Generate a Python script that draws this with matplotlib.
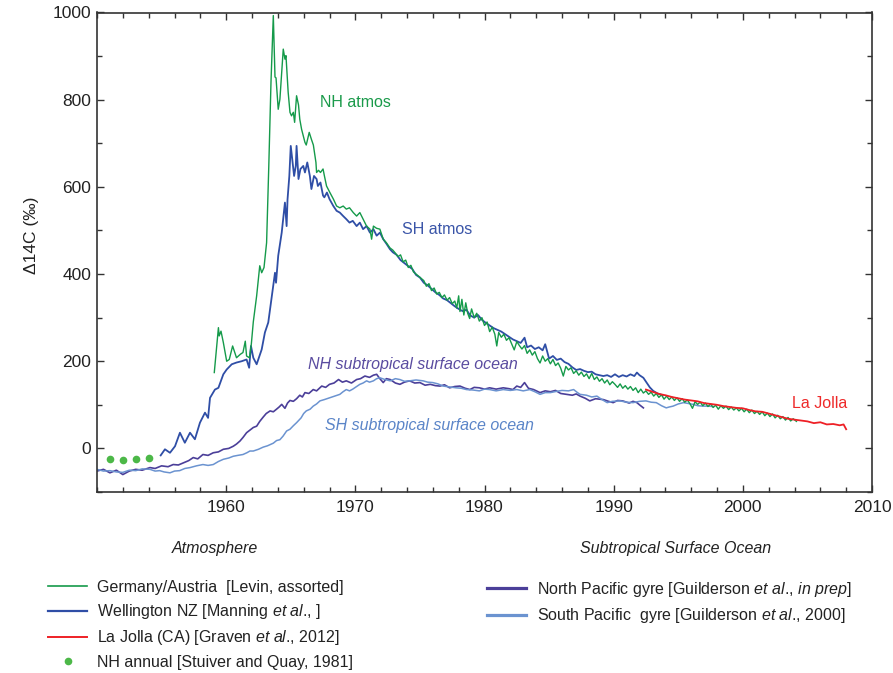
import numpy as np
import matplotlib
matplotlib.use("Agg")
from matplotlib import pyplot as plt
from matplotlib.lines import Line2D
from matplotlib.ticker import MultipleLocator

plt.rcParams["font.family"] = ["Liberation Sans", "DejaVu Sans"]
plt.rcParams["mathtext.fontset"] = "custom"
plt.rcParams["mathtext.rm"] = "Liberation Sans"
plt.rcParams["mathtext.it"] = "Liberation Sans:italic"

# NH annual [Stuiver and Quay, 1981]
dot_years = [1951, 1952, 1953, 1954]
dot_vals = [-24, -26, -25, -22]

# Germany/Austria (NH atmos)
nh_years = [1959.08, 1959.40, 1959.46, 1959.60, 1959.78, 1960.04, 1960.24, 1960.50, 1960.80, 1961.10,
            1961.30, 1961.48, 1961.58, 1961.80, 1961.95, 1962.10, 1962.36, 1962.60, 1962.75, 1962.93,
            1963.13, 1963.30, 1963.47, 1963.65, 1963.78, 1963.86, 1964.03, 1964.16, 1964.42, 1964.55,
            1964.63, 1964.80, 1964.94, 1965.06, 1965.20, 1965.30, 1965.45, 1965.60, 1965.70, 1965.84,
            1966.10, 1966.20, 1966.43, 1966.60, 1966.75, 1966.95, 1967.00, 1967.15, 1967.30, 1967.50,
            1967.60, 1967.77, 1968.03, 1968.30, 1968.55, 1968.80, 1969.06, 1969.30, 1969.55, 1969.84,
            1970.10, 1970.35, 1970.60, 1970.87, 1971.13, 1971.26, 1971.40, 1971.64, 1971.90, 1972.16,
            1972.40, 1972.68, 1972.9, 1973.1, 1973.3, 1973.5, 1973.7, 1973.9, 1974.1, 1974.3,
            1974.5, 1975.3, 1975.5, 1975.7, 1975.9, 1976.1, 1976.3, 1976.5, 1976.7, 1976.9,
            1977.1, 1977.3, 1977.5, 1977.7, 1977.85, 1978.0, 1978.1, 1978.25, 1978.4, 1978.55,
            1978.7, 1978.85, 1979.0, 1979.2, 1979.4, 1979.6, 1979.8, 1980.0, 1980.2, 1980.4,
            1980.6, 1980.8, 1980.95, 1981.1, 1981.3, 1981.5, 1981.7, 1981.9, 1982.1, 1982.3,
            1982.5, 1982.7, 1982.9, 1983.1, 1983.3, 1983.5, 1983.7, 1983.9, 1984.1, 1984.3,
            1984.5, 1984.7, 1984.9, 1985.1, 1985.3, 1985.5, 1985.7, 1985.9, 1986.1, 1986.3,
            1986.5, 1986.7, 1986.9, 1987.1, 1987.3, 1987.5, 1987.7, 1987.9, 1988.1, 1988.3,
            1988.5, 1988.7, 1988.9, 1989.1, 1989.3, 1989.5, 1989.7, 1989.9, 1990.1, 1990.3,
            1990.5, 1990.7, 1990.9, 1991.1, 1991.3, 1991.5, 1991.7, 1991.9, 1992.1, 1992.3,
            1992.5, 1992.7, 1992.9, 1993.1, 1993.3, 1993.5, 1993.7, 1993.9, 1994.1, 1994.3,
            1994.5, 1994.7, 1994.9, 1995.1, 1995.3, 1995.5, 1995.7, 1995.9, 1996.1, 1996.3,
            1996.5, 1996.7, 1996.9, 1997.1, 1997.3, 1997.5, 1997.7, 1997.9, 1998.1, 1998.3,
            1998.5, 1998.7, 1998.9, 1999.1, 1999.3, 1999.5, 1999.7, 1999.9, 2000.1, 2000.3,
            2000.5, 2000.7, 2000.9, 2001.1, 2001.3, 2001.5, 2001.7, 2001.9, 2002.1, 2002.3,
            2002.5, 2002.7, 2002.9, 2003.1, 2003.3, 2003.5, 2003.7, 2003.9, 2004.15]
nh_vals = [174, 277, 258, 269, 243, 200, 204, 235, 208, 216,
           220, 246, 212, 208, 240, 290, 350, 419, 403, 415,
           472, 648, 840, 993, 852, 850, 778, 801, 916, 893,
           901, 817, 771, 763, 771, 748, 809, 788, 755, 732,
           702, 696, 725, 709, 696, 656, 633, 638, 633, 641,
           626, 602, 587, 572, 556, 552, 556, 549, 552, 541,
           533, 541, 526, 510, 503, 480, 510, 505, 503, 480,
           472, 460, 455, 448, 440, 444, 428, 432, 415, 420,
           405, 385, 372, 378, 362, 368, 354, 358, 346, 352,
           340, 346, 332, 338, 322, 350, 314, 342, 306, 334,
           310, 298, 320, 300, 310, 292, 300, 282, 290, 268,
           278, 262, 235, 266, 255, 262, 248, 254, 240, 226,
           245, 236, 228, 236, 218, 226, 214, 222, 206, 196,
           212, 200, 206, 194, 204, 190, 196, 184, 166, 188,
           180, 185, 172, 178, 168, 175, 165, 171, 160, 172,
           158, 164, 154, 160, 150, 157, 146, 153, 147, 140,
           148, 138, 144, 136, 142, 133, 139, 128, 136, 127,
           132, 124, 129, 120, 126, 117, 123, 113, 120, 112,
           118, 110, 116, 108, 114, 106, 111, 103, 92, 107,
           101, 106, 98, 104, 96, 102, 94, 99, 90, 98,
           92, 97, 89, 95, 88, 93, 86, 92, 84, 90,
           82, 88, 80, 85, 78, 84, 75, 81, 73, 79,
           70, 76, 68, 73, 65, 71, 63, 68, 62]

# Wellington NZ (SH atmos)
sh_years = [1954.93, 1955.26, 1955.65, 1956.04, 1956.42, 1956.80, 1957.20, 1957.58, 1957.97, 1958.36,
            1958.60, 1958.75, 1959.13, 1959.40, 1959.78, 1960.04, 1960.43, 1960.80, 1961.20, 1961.58,
            1961.78, 1961.92, 1962.10, 1962.36, 1962.75, 1963.00, 1963.26, 1963.50, 1963.60, 1963.78,
            1963.86, 1964.03, 1964.30, 1964.55, 1964.68, 1964.75, 1964.89, 1965.00, 1965.26, 1965.39,
            1965.45, 1965.60, 1965.75, 1965.97, 1966.10, 1966.28, 1966.48, 1966.60, 1966.80, 1967.00,
            1967.10, 1967.30, 1967.50, 1967.60, 1967.80, 1968.00, 1968.30, 1968.55, 1968.80, 1969.06,
            1969.30, 1969.55, 1969.80, 1970.10, 1970.35, 1970.60, 1970.87, 1971.13, 1971.40, 1971.65,
            1971.90, 1972.16, 1972.42, 1972.68, 1972.9, 1973.2, 1973.5, 1973.8, 1974.1, 1974.4,
            1974.7, 1975.0, 1975.3, 1975.6, 1975.9, 1976.2, 1976.5, 1976.8, 1977.1, 1977.4,
            1977.7, 1978.0, 1978.3, 1978.6, 1978.9, 1979.2, 1979.5, 1979.8, 1980.1, 1980.4,
            1980.7, 1981.0, 1981.3, 1981.6, 1981.9, 1982.2, 1982.5, 1982.8, 1983.1, 1983.3,
            1983.6, 1983.9, 1984.2, 1984.5, 1984.7, 1985.0, 1985.3, 1985.6, 1985.9, 1986.2,
            1986.5, 1986.8, 1987.1, 1987.4, 1987.7, 1988.0, 1988.3, 1988.6, 1988.9, 1989.2,
            1989.5, 1989.8, 1990.1, 1990.4, 1990.7, 1991.0, 1991.3, 1991.6, 1991.8, 1992.0,
            1992.3, 1992.55, 1992.8, 1993.06, 1993.4, 1993.8]
sh_vals = [-16, -2, -10, 5, 36, 13, 36, 21, 59, 82,
           70, 116, 135, 139, 170, 181, 193, 197, 200, 204,
           185, 235, 208, 193, 227, 266, 289, 342, 365, 403,
           380, 442, 495, 564, 510, 571, 625, 694, 625, 648,
           694, 618, 641, 648, 633, 656, 625, 595, 625, 618,
           602, 610, 580, 576, 587, 572, 556, 545, 541, 533,
           526, 518, 522, 510, 518, 503, 510, 495, 503, 488,
           495, 480, 469, 457, 450, 444, 432, 425, 418, 412,
           398, 392, 380, 374, 366, 358, 352, 344, 340, 333,
           326, 320, 315, 318, 305, 300, 306, 295, 288, 282,
           276, 272, 268, 262, 256, 250, 246, 242, 254, 232,
           236, 228, 232, 225, 239, 206, 212, 203, 206, 198,
           194, 186, 180, 182, 178, 175, 176, 170, 168, 166,
           168, 164, 170, 164, 168, 165, 170, 166, 174, 168,
           162, 151, 140, 132, 126, 122]

# La Jolla (CA)
lj_years = [1992.5, 1993.0, 1993.5, 1994.0, 1994.5, 1995.0, 1995.5, 1996.0, 1996.5, 1997.0,
            1997.5, 1998.0, 1998.5, 1999.0, 1999.5, 2000.0, 2000.5, 2001.0, 2001.5, 2002.0,
            2002.5, 2003.0, 2003.5, 2004.0, 2004.5, 2005.0, 2005.5, 2006.0, 2006.5, 2007.0,
            2007.5, 2007.8, 2008.0]
lj_vals = [135, 130, 125, 122, 118, 115, 112, 110, 108, 104,
           102, 100, 97, 95, 93, 92, 88, 85, 84, 80,
           76, 72, 68, 66, 64, 62, 58, 60, 55, 56,
           53, 55, 44]

# North Pacific gyre (NH subtropical surface ocean)
np_years = [1950.0, 1950.5, 1951.0, 1951.5, 1952.0, 1952.5, 1953.0, 1953.5, 1954.1, 1954.5,
            1955.0, 1955.5, 1955.9, 1956.3, 1956.7, 1957.1, 1957.45, 1957.8, 1958.2, 1958.6,
            1959.0, 1959.4, 1959.78, 1960.2, 1960.55, 1960.8, 1961.07, 1961.3, 1961.58, 1961.84,
            1962.1, 1962.36, 1962.6, 1962.87, 1963.1, 1963.4, 1963.65, 1963.9, 1964.1, 1964.3,
            1964.55, 1964.75, 1964.94, 1965.2, 1965.45, 1965.7, 1965.9, 1966.1, 1966.4, 1966.74,
            1967.0, 1967.4, 1967.7, 1968.0, 1968.35, 1968.7, 1969.0, 1969.3, 1969.7, 1970.1,
            1970.4, 1970.74, 1971.1, 1971.4, 1971.65, 1971.9, 1972.16, 1972.4, 1972.7, 1973.1,
            1973.45, 1973.8, 1974.2, 1974.6, 1975.0, 1975.4, 1975.8, 1976.2, 1976.55, 1976.9,
            1977.3, 1977.7, 1978.1, 1978.5, 1978.87, 1979.2, 1979.6, 1980.0, 1980.4, 1980.9,
            1981.45, 1981.9, 1982.2, 1982.5, 1982.8, 1983.1, 1983.4, 1983.8, 1984.3, 1984.7,
            1985.1, 1985.5, 1985.9, 1986.35, 1986.8, 1987.1, 1987.4, 1987.8, 1988.15, 1988.6,
            1989.2, 1989.6, 1989.96, 1990.3, 1990.7, 1991.2, 1991.5, 1991.8, 1992.0, 1992.3]
np_vals = [-52, -48, -56, -50, -60, -52, -48, -50, -44, -46,
           -40, -42, -37, -38, -33, -28, -21, -24, -14, -16,
           -10, -8, -2, 0, 5, 10, 17, 25, 36, 42,
           48, 51, 62, 72, 80, 86, 84, 90, 95, 101,
           92, 104, 110, 108, 114, 122, 118, 128, 126, 135,
           132, 143, 140, 147, 150, 158, 152, 155, 150, 158,
           160, 166, 163, 168, 170, 160, 151, 160, 158, 150,
           147, 152, 155, 150, 151, 145, 147, 144, 143, 146,
           139, 142, 143, 138, 135, 140, 139, 136, 139, 136,
           139, 137, 135, 143, 140, 151, 138, 135, 128, 132,
           130, 133, 126, 124, 122, 125, 120, 115, 109, 114,
           112, 108, 105, 110, 109, 104, 108, 105, 100, 93]

# South Pacific gyre (SH subtropical surface ocean)
sp_years = [1950.0, 1950.5, 1951.0, 1951.5, 1952.0, 1952.5, 1953.0, 1953.5, 1954.1, 1954.5,
            1954.85, 1955.2, 1955.65, 1956.0, 1956.4, 1956.8, 1957.2, 1957.7, 1958.2, 1958.6,
            1959.0, 1959.4, 1959.78, 1960.2, 1960.55, 1960.9, 1961.3, 1961.6, 1961.84, 1962.1,
            1962.5, 1962.87, 1963.2, 1963.65, 1963.9, 1964.16, 1964.4, 1964.68, 1964.94, 1965.2,
            1965.45, 1965.8, 1966.0, 1966.2, 1966.5, 1966.74, 1967.0, 1967.26, 1967.6, 1968.0,
            1968.4, 1968.8, 1969.05, 1969.3, 1969.55, 1969.8, 1970.1, 1970.35, 1970.6, 1970.87,
            1971.1, 1971.4, 1971.65, 1971.9, 1972.3, 1972.7, 1973.1, 1973.45, 1973.8, 1974.2,
            1974.7, 1975.25, 1975.6, 1976.0, 1976.4, 1976.8, 1977.3, 1977.8, 1978.2, 1978.6,
            1979.1, 1979.6, 1980.0, 1980.4, 1980.9, 1981.45, 1982.0, 1982.5, 1983.0, 1983.5,
            1983.9, 1984.3, 1984.7, 1985.1, 1985.6, 1986.0, 1986.5, 1986.9, 1987.2, 1987.4,
            1987.9, 1988.3, 1988.7, 1989.1, 1989.5, 1989.9, 1990.5, 1991.0, 1991.5, 1992.0,
            1992.5, 1992.9, 1993.3, 1993.7, 1994.07, 1994.3, 1994.6, 1995.0, 1995.4, 1995.8,
            1996.15, 1996.5, 1996.9, 1997.3, 1997.7]
sp_vals = [-48, -52, -51, -54, -55, -50, -51, -47, -48, -52,
           -51, -54, -56, -52, -51, -46, -44, -40, -37, -39,
           -37, -30, -25, -22, -18, -16, -14, -10, -6, -6,
           -2, 3, 6, 12, 18, 20, 28, 40, 44, 52,
           59, 70, 80, 86, 90, 97, 102, 109, 112, 116,
           120, 124, 130, 135, 132, 136, 142, 147, 150, 155,
           152, 155, 160, 162, 158, 155, 160, 158, 154, 155,
           157, 155, 152, 151, 148, 143, 141, 139, 138, 135,
           134, 132, 136, 135, 132, 135, 133, 135, 132, 135,
           130, 124, 128, 128, 131, 133, 132, 135, 128, 124,
           122, 118, 120, 112, 105, 108, 109, 106, 105, 108,
           109, 106, 105, 98, 93, 95, 97, 102, 105, 103,
           101, 98, 97, 97, 96]

green = "#159a4a"
blue = "#2f4ea6"
red = "#ee2026"
purple = "#4b3f99"
lightblue = "#6b93d0"
dotgreen = "#4cb848"

fig = plt.figure(figsize=(8.93, 6.73), dpi=100)
ax = fig.add_axes([97 / 893, 1 - 492 / 673, 775 / 893, 479.5 / 673])

ax.plot(np_years, np_vals, color=purple, lw=1.2)
ax.plot(sp_years, sp_vals, color=lightblue, lw=1.1)
ax.plot(sh_years, sh_vals, color=blue, lw=1.3)
ax.plot(nh_years, nh_vals, color=green, lw=1.0)
ax.plot(lj_years, lj_vals, color=red, lw=1.3)
ax.plot(dot_years, dot_vals, "o", color=dotgreen, ms=5.5, mec="none")

ax.text(1967.26, 794, "NH atmos", color="#1a9a4a", fontsize=11.5, va="center")
ax.text(1973.6, 503, "SH atmos", color="#3a55a8", fontsize=11.5, va="center")
ax.text(1966.33, 193, "NH subtropical surface ocean", color="#5a4ca0", fontsize=11.5,
        style="italic", va="center")
ax.text(1967.65, 53, "SH subtropical surface ocean", color="#5b85c8", fontsize=11.5,
        style="italic", va="center")
ax.text(2003.8, 103, "La Jolla", color="#ee2a2a", fontsize=11.5, va="center")

ax.set_xlim(1950, 2010)
ax.set_ylim(-100, 1000)
ax.xaxis.set_major_locator(MultipleLocator(10))
ax.xaxis.set_minor_locator(MultipleLocator(2))
ax.yaxis.set_major_locator(MultipleLocator(200))
ax.yaxis.set_minor_locator(MultipleLocator(100))
ax.set_xticks([1960, 1970, 1980, 1990, 2000, 2010])
ax.tick_params(which="both", direction="in", top=True, right=True, colors="#333333",
               labelcolor="#222222", labelsize=12.5, width=1.0)
ax.tick_params(which="major", length=5)
ax.tick_params(which="minor", length=3.5)
ax.tick_params(axis="x", pad=6)
ax.tick_params(axis="y", pad=4)
for s in ax.spines.values():
    s.set_color("#333333")
    s.set_linewidth(1.2)

ax.set_ylabel("\u039414C (\u2030)", fontsize=12.5, color="#222222")
ax.yaxis.set_label_coords(-0.075, 0.536)

# legends below the plot
fig.text(215 / 893, 1 - 549 / 673, "Atmosphere", style="italic", fontsize=11.5,
         ha="center", va="center", color="#222222")
fig.text(676 / 893, 1 - 549 / 673, "Subtropical Surface Ocean", style="italic", fontsize=11.5,
         ha="center", va="center", color="#222222")

atm_handles = [Line2D([], [], color=green, lw=1.2),
               Line2D([], [], color=blue, lw=1.6),
               Line2D([], [], color=red, lw=1.4),
               Line2D([], [], color=dotgreen, marker="o", ms=5.5, mec="none", ls="none")]
atm_labels = ["Germany/Austria  [Levin, assorted]",
              r"Wellington NZ [Manning $\mathit{et\ al}$., ]",
              r"La Jolla (CA) [Graven $\mathit{et\ al}$., $\mathit{2012}$]",
              "NH annual [Stuiver and Quay, 1981]"]
ocean_handles = [Line2D([], [], color=purple, lw=2.3),
                 Line2D([], [], color=lightblue, lw=2.3)]
ocean_labels = [r"North Pacific gyre [Guilderson $\mathit{et\ al}$., $\mathit{in\ prep}$]",
                r"South Pacific  gyre [Guilderson $\mathit{et\ al}$., 2000]"]

leg1 = fig.legend(atm_handles, atm_labels, loc="upper left",
                  bbox_to_anchor=(41.6 / 893, 1 - 573.6 / 673), frameon=False,
                  fontsize=11.5, handlelength=2.45, handletextpad=0.62,
                  labelspacing=0.45, borderaxespad=0, labelcolor="#222222")
leg2 = fig.legend(ocean_handles, ocean_labels, loc="upper left",
                  bbox_to_anchor=(480.6 / 893, 1 - 573.6 / 673), frameon=False,
                  fontsize=11.5, handlelength=2.45, handletextpad=0.69,
                  labelspacing=0.45, borderaxespad=0, labelcolor="#222222")

fig.savefig("out.png", dpi=100)
